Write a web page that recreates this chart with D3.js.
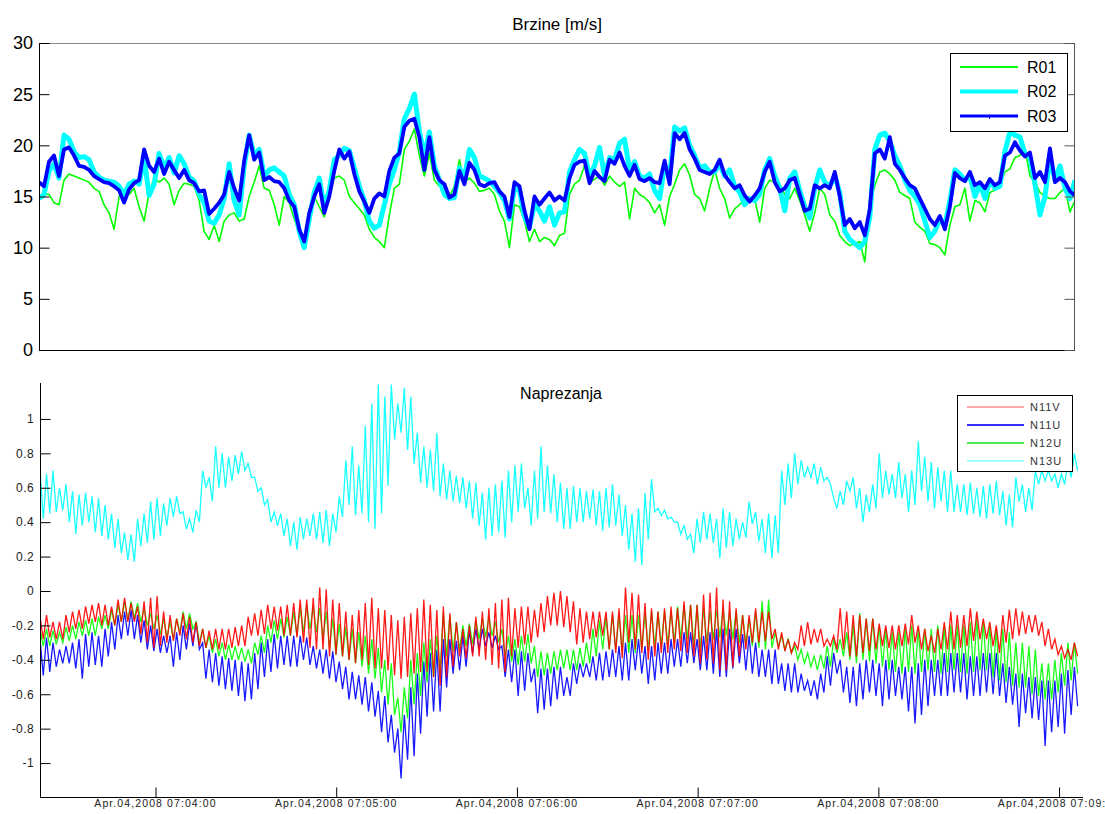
<!DOCTYPE html>
<html><head><meta charset="utf-8">
<script src="https://cdn.jsdelivr.net/npm/d3@7/dist/d3.min.js"></script>
<style>
html,body{margin:0;padding:0;background:#fff;}
svg{display:block;font-family:Arial,"Liberation Sans",sans-serif;}
</style></head><body>
<svg id="c" width="1105" height="814"></svg>
<script>
// ---------- Top panel: Brzine [m/s] ----------
const topTitle = "Brzine [m/s]";
const topSeriesNames = ["R01", "R02", "R03"];
const topTicks = [0, 5, 10, 15, 20, 25, 30];
const r01 = [15.0,15.3,15.2,14.4,14.2,16.6,17.2,17.0,16.8,16.6,
16.4,15.8,15.5,14.2,13.4,11.8,15.0,15.6,15.2,15.8,
14.0,12.6,15.4,16.8,16.4,16.8,16.2,14.2,15.6,16.3,
16.2,16.0,14.6,11.6,10.8,12.2,10.6,12.6,13.2,13.4,
12.6,12.8,15.0,16.4,18.0,15.8,15.6,14.2,12.2,15.0,
14.4,12.8,11.4,11.0,12.4,15.0,14.0,13.0,15.6,16.8,
17.0,16.6,15.0,14.4,13.8,13.2,11.8,11.0,10.6,10.0,
13.2,15.8,16.2,19.6,20.4,21.6,19.0,17.0,19.2,16.6,
16.0,16.0,15.0,16.0,18.6,16.4,16.8,16.3,15.5,15.6,
15.8,15.2,13.6,12.6,10.0,14.2,14.0,12.6,10.6,11.8,
10.6,11.0,10.8,10.2,11.2,
11.4,15.2,16.2,16.6,18.0,16.3,16.7,17.0,16.1,17.0,
16.4,16.0,16.4,12.8,15.8,15.2,14.9,14.4,13.4,14.2,
12.2,15.0,16.2,17.6,18.2,17.1,15.2,14.8,13.6,15.8,
17.6,15.8,14.8,12.9,13.8,14.2,14.8,14.6,14.8,12.5,
15.8,16.6,16.4,16.2,15.2,14.8,15.8,14.6,13.2,11.6,
13.4,15.8,15.2,13.2,12.6,11.2,10.6,10.2,10.4,10.6,
8.6,14.2,16.1,17.4,17.6,17.2,16.6,15.4,15.1,14.8,
12.5,12.0,11.6,10.4,10.3,10.0,9.3,12.2,14.0,14.2,
15.8,12.6,14.6,14.4,13.5,15.4,15.6,16.2,17.4,17.7,
18.8,19.0,19.7,17.0,16.4,15.4,15.0,14.8,14.8,15.4,
15.8,13.5,14.6];
const r02 = [14.8,15.2,17.5,18.2,16.8,21.0,20.6,19.4,18.8,18.9,
18.6,17.4,16.9,16.6,16.5,16.4,16.0,15.2,16.2,16.5,
16.2,18.8,15.1,16.2,19.2,17.8,18.8,17.3,19.0,18.2,
16.9,16.5,15.2,14.4,12.6,12.4,13.2,14.8,18.2,14.6,
13.2,18.0,21.0,19.0,19.6,17.0,17.6,17.8,17.4,17.0,
15.2,14.2,11.6,10.0,12.8,15.4,16.8,14.0,15.6,18.6,
19.0,19.7,19.5,17.8,16.0,14.6,12.6,11.9,12.2,14.2,
16.2,17.6,19.4,22.6,23.6,25.0,21.4,19.0,21.3,18.0,
16.6,15.2,14.8,14.9,17.8,16.8,19.6,18.8,17.0,16.8,
16.5,16.0,15.4,14.6,12.8,15.8,15.6,13.0,12.0,14.2,
13.6,12.6,14.0,12.2,13.4,
13.5,17.4,18.6,19.6,19.2,17.0,18.0,19.8,17.0,18.8,
18.6,20.2,20.6,17.6,18.4,17.0,16.8,17.2,15.6,14.8,
18.0,17.0,21.8,21.4,21.7,20.0,19.0,17.8,18.0,17.4,
17.4,18.2,17.0,17.6,16.0,15.4,14.2,14.8,14.6,15.2,
17.6,18.7,17.0,15.8,13.6,16.8,17.4,15.6,14.0,12.9,
15.8,17.6,16.4,16.0,17.0,15.4,11.6,10.8,10.4,10.0,
10.6,13.0,19.6,21.0,21.2,20.4,19.0,18.0,16.6,15.6,
15.0,14.2,12.6,11.0,11.6,12.8,12.2,14.6,17.6,17.2,
16.6,17.0,15.0,16.2,14.8,16.6,15.8,16.0,19.4,21.3,
21.0,20.8,19.2,18.8,16.2,13.2,15.0,18.8,16.6,18.0,
15.8,14.8,16.6];
const r03 = [16.4,16.0,18.4,19.0,17.0,19.6,19.8,19.0,18.0,17.9,
17.6,17.0,16.7,16.4,16.3,16.0,15.6,14.4,15.7,16.3,
16.6,19.6,18.0,17.4,18.7,17.2,18.4,17.6,16.8,17.6,
16.6,16.3,15.5,15.6,13.3,13.8,14.4,15.2,17.4,15.8,
14.6,18.5,21.0,18.6,19.3,16.6,16.9,16.5,16.4,15.8,
14.6,14.0,11.8,10.6,13.4,15.0,16.2,13.4,15.0,17.5,
19.6,18.7,19.4,17.2,15.5,14.5,13.4,14.8,15.3,15.0,
17.5,18.8,19.2,21.8,22.4,22.6,20.8,17.6,20.8,17.6,
16.6,16.2,14.9,15.2,17.5,16.2,18.3,17.6,16.2,16.0,
16.3,16.4,15.5,15.0,13.0,16.4,16.0,13.6,11.8,15.0,
14.2,14.8,15.4,14.6,15.0,
14.6,16.8,18.1,18.4,18.5,16.3,17.5,16.9,16.5,18.6,
18.2,19.3,18.0,17.0,18.1,16.7,16.5,16.8,16.4,16.3,
18.5,16.2,21.2,20.6,21.2,19.6,18.7,17.6,17.4,17.2,
17.6,18.6,17.1,16.4,15.8,16.1,15.1,14.5,15.1,15.8,
17.4,18.4,16.4,15.5,15.8,16.6,16.8,15.2,13.6,13.8,
16.1,15.8,16.1,15.8,17.4,15.0,12.2,12.8,11.9,12.5,
11.2,13.8,19.2,19.6,18.7,20.8,18.2,17.6,16.8,16.1,
15.8,14.8,13.8,12.8,12.2,13.1,11.8,14.0,17.3,16.8,
16.5,17.4,16.1,16.4,15.8,16.7,16.1,16.4,19.0,19.3,
20.3,19.5,18.9,19.3,16.8,17.4,16.4,19.7,16.4,16.8,
16.4,15.5,15.1];

// ---------- Bottom panel: Naprezanja ----------
const botTitle = "Naprezanja";
const botSeriesNames = ["N11V", "N11U", "N12U", "N13U"];
const botTicks = [-1, -0.8, -0.6, -0.4, -0.2, 0, 0.2, 0.4, 0.6, 0.8, 1];
const botTickLabels = ["-1", "-0.8", "-0.6", "-0.4", "-0.2", "0", "0.2", "0.4", "0.6", "0.8", "1"];
const timeTickMinutes = [4, 5, 6, 7, 8, 9];
const timeTickLabels = ["Apr.04,2008 07:04:00", "Apr.04,2008 07:05:00", "Apr.04,2008 07:06:00",
  "Apr.04,2008 07:07:00", "Apr.04,2008 07:08:00", "Apr.04,2008 07:09:00"];

// envelope samples (upper / lower swing of each oscillation)
const n13uHi = [.71,.68,.70,.60,.62,.58,.56,.57,.55,.54,
.50,.45,.42,.34,.33,.42,.45,.52,.54,.51,
.54,.55,.46,.42,.47,.70,.66,.84,.80,.78,
.79,.81,.74,.66,.60,.53,.46,.45,.42,.40,
.43,.42,.45,.46,.47,.45,.55,.76,.84,.73,
.96,1.09,1.20,1.13,1.20,1.09,1.18,1.13,.92,.84,
.82,.92,.74,.70,.67,.66,.64,.63,.57,.60,
.62,.64,.70,.73,.74,.60,.70,.84,.73,.68,
.63,.60,.61,.60,.58,.59,.58,.60,.62,.56,
.50,.45,.48,.57,.65,.48,.47,.43,.40,.38,
.33,.42,.46,.45,.42,.48,.46,.42,.40,.52,
.46,.42,.45,.44,.70,.74,.80,.76,.72,.74,
.72,.66,.54,.58,.64,.66,.60,.56,.62,.80,
.70,.68,.75,.68,.70,.87,.78,.75,.72,.70,
.70,.62,.62,.63,.60,.61,.62,.64,.58,.56,
.66,.62,.60,.70,.70,.70,.68,.68,.75,.80];
const n13uLo = [.42,.45,.46,.47,.40,.33,.38,.40,.34,.32,
.30,.25,.22,.18,.17,.26,.28,.30,.32,.38,
.43,.45,.36,.34,.40,.60,.52,.60,.60,.64,
.68,.70,.66,.58,.50,.40,.38,.32,.26,.24,
.30,.32,.30,.28,.26,.34,.43,.50,.44,.45,
.40,.36,.45,.61,.88,.92,.82,.74,.63,.60,
.58,.55,.53,.52,.51,.48,.42,.38,.30,.32,
.34,.31,.40,.46,.48,.38,.42,.46,.45,.40,
.36,.36,.40,.40,.42,.38,.35,.37,.38,.32,
.24,.17,.15,.30,.46,.44,.42,.40,.33,.30,
.22,.28,.30,.28,.19,.25,.26,.30,.31,.39,
.29,.22,.19,.22,.50,.54,.62,.66,.66,.62,
.64,.62,.48,.50,.58,.48,.40,.46,.48,.54,
.56,.54,.54,.46,.50,.58,.52,.48,.52,.46,
.46,.46,.44,.45,.43,.42,.45,.44,.38,.37,
.52,.46,.47,.62,.64,.64,.60,.62,.66,.70];
const n11vHi = [-.15,-.14,-.18,-.18,-.14,-.12,-.11,-.09,-.08,-.07,
-.08,-.09,-.05,-.04,-.07,-.09,-.06,-.04,-.03,-.12,
-.14,-.16,-.13,-.15,-.18,-.22,-.23,-.22,-.22,-.22,
-.21,-.20,-.15,-.13,-.11,-.08,-.09,-.09,-.08,-.07,
-.05,-.05,-.04,.02,.01,-.05,-.07,-.12,-.14,-.11,
-.07,-.04,-.10,-.11,-.14,-.17,-.15,-.13,-.10,-.05,
-.08,-.11,-.09,-.13,-.18,-.22,-.20,-.15,-.12,-.10,
-.07,-.05,-.04,-.10,-.09,-.09,-.11,-.07,-.03,-.01,
.00,-.03,-.06,-.10,-.12,-.12,-.12,-.12,-.12,-.10,
.02,-.01,-.02,-.07,-.10,-.12,-.10,-.09,-.10,-.06,
-.08,-.08,-.02,-.01,.02,-.05,-.06,-.10,-.14,-.14,
-.10,-.12,-.12,-.22,-.24,-.28,-.30,-.20,-.18,-.22,
-.22,-.28,-.26,-.10,-.12,-.14,-.14,-.16,-.16,-.19,
-.20,-.20,-.20,-.19,-.14,-.20,-.22,-.26,-.22,-.18,
-.12,-.14,-.14,-.10,-.12,-.16,-.18,-.20,-.14,-.11,
-.10,-.12,-.14,-.14,-.18,-.22,-.28,-.32,-.34,-.30];
const n11vLo = [-.28,-.27,-.28,-.28,-.24,-.22,-.22,-.19,-.18,-.20,
-.20,-.20,-.18,-.18,-.18,-.25,-.30,-.33,-.32,-.30,
-.29,-.26,-.28,-.30,-.32,-.33,-.34,-.34,-.34,-.33,
-.32,-.32,-.26,-.26,-.25,-.22,-.23,-.26,-.26,-.27,
-.30,-.33,-.34,-.34,-.38,-.37,-.38,-.40,-.42,-.40,
-.43,-.45,-.45,-.46,-.49,-.51,-.50,-.48,-.47,-.47,
-.50,-.55,-.50,-.44,-.38,-.39,-.38,-.38,-.40,-.43,
-.45,-.47,-.38,-.33,-.31,-.30,-.27,-.24,-.20,-.20,
-.21,-.24,-.31,-.30,-.28,-.27,-.26,-.34,-.36,-.39,
-.30,-.34,-.36,-.40,-.38,-.36,-.36,-.34,-.35,-.36,
-.38,-.42,-.40,-.42,-.46,-.46,-.44,-.38,-.34,-.30,
-.30,-.29,-.28,-.34,-.35,-.36,-.34,-.32,-.31,-.30,
-.32,-.32,-.34,-.34,-.38,-.38,-.36,-.35,-.34,-.32,
-.33,-.34,-.32,-.31,-.30,-.34,-.35,-.36,-.34,-.34,
-.34,-.33,-.32,-.29,-.28,-.28,-.32,-.36,-.30,-.28,
-.26,-.25,-.24,-.26,-.32,-.34,-.37,-.39,-.40,-.38];
const n11uHi = [-.28,-.27,-.30,-.34,-.32,-.30,-.28,-.25,-.24,-.26,
-.22,-.18,-.14,-.12,-.11,-.14,-.17,-.20,-.22,-.26,
-.26,-.24,-.20,-.19,-.18,-.30,-.34,-.36,-.38,-.39,
-.40,-.41,-.42,-.36,-.30,-.28,-.25,-.26,-.26,-.26,
-.26,-.27,-.32,-.34,-.34,-.35,-.41,-.44,-.47,-.49,
-.50,-.53,-.58,-.61,-.72,-.80,-.72,-.56,-.48,-.41,
-.36,-.34,-.28,-.28,-.29,-.26,-.23,-.22,-.22,-.24,
-.26,-.32,-.34,-.34,-.35,-.36,-.45,-.45,-.45,-.44,
-.44,-.50,-.42,-.42,-.42,-.38,-.36,-.35,-.34,-.32,
-.30,-.28,-.28,-.32,-.32,-.30,-.30,-.28,-.28,-.24,
-.24,-.28,-.26,-.24,-.22,-.22,-.22,-.22,-.25,-.26,
-.30,-.34,-.34,-.34,-.42,-.42,-.42,-.48,-.52,-.52,
-.48,-.38,-.36,-.40,-.44,-.44,-.42,-.40,-.40,-.42,
-.40,-.40,-.44,-.44,-.44,-.42,-.40,-.40,-.40,-.36,
-.36,-.36,-.36,-.38,-.38,-.36,-.36,-.36,-.42,-.44,
-.48,-.48,-.50,-.50,-.52,-.52,-.52,-.48,-.46,-.44];
const n11uLo = [-.49,-.47,-.44,-.42,-.42,-.45,-.51,-.44,-.43,-.44,
-.38,-.34,-.28,-.26,-.28,-.30,-.34,-.35,-.36,-.36,
-.44,-.40,-.34,-.32,-.34,-.51,-.53,-.55,-.57,-.58,
-.61,-.64,-.63,-.57,-.50,-.47,-.45,-.43,-.44,-.44,
-.40,-.43,-.45,-.48,-.51,-.53,-.57,-.63,-.63,-.66,
-.70,-.73,-.82,-.88,-.94,-1.09,-.98,-.96,-.83,-.73,
-.70,-.70,-.56,-.48,-.46,-.44,-.36,-.34,-.32,-.33,
-.34,-.50,-.53,-.61,-.58,-.53,-.71,-.69,-.67,-.63,
-.61,-.61,-.54,-.50,-.50,-.52,-.52,-.50,-.50,-.52,
-.52,-.46,-.48,-.54,-.52,-.48,-.48,-.44,-.44,-.42,
-.42,-.46,-.46,-.48,-.50,-.50,-.45,-.42,-.46,-.48,
-.50,-.50,-.54,-.54,-.58,-.59,-.59,-.58,-.61,-.63,
-.59,-.55,-.48,-.59,-.65,-.67,-.63,-.59,-.61,-.67,
-.63,-.61,-.63,-.70,-.77,-.72,-.67,-.61,-.61,-.61,
-.59,-.59,-.63,-.61,-.61,-.59,-.60,-.61,-.65,-.66,
-.79,-.71,-.74,-.75,-.90,-.82,-.79,-.83,-.72,-.67];
const n12uHi = [-.22,-.22,-.23,-.24,-.21,-.20,-.18,-.17,-.16,-.15,
-.14,-.11,-.08,-.06,-.06,-.07,-.10,-.13,-.14,-.16,
-.18,-.16,-.12,-.13,-.18,-.22,-.26,-.28,-.30,-.31,
-.32,-.33,-.34,-.30,-.26,-.20,-.17,-.16,-.15,-.12,
-.10,-.08,-.09,-.10,-.12,-.16,-.19,-.21,-.22,-.24,
-.26,-.28,-.33,-.40,-.42,-.62,-.56,-.40,-.36,-.30,
-.28,-.26,-.13,-.14,-.18,-.20,-.19,-.17,-.16,-.15,
-.18,-.22,-.26,-.28,-.26,-.25,-.32,-.35,-.36,-.35,
-.34,-.34,-.34,-.33,-.30,-.22,-.17,-.15,-.14,-.14,
-.14,-.14,-.14,-.13,-.12,-.12,-.12,-.12,-.09,-.08,
-.08,-.08,-.10,-.12,-.11,-.10,-.12,-.12,-.14,-.16,
-.12,-.06,-.05,-.24,-.26,-.28,-.32,-.34,-.36,-.38,
-.37,-.32,-.28,-.28,-.24,-.20,-.13,-.16,-.16,-.20,
-.22,-.24,-.24,-.22,-.20,-.22,-.22,-.22,-.20,-.20,
-.20,-.20,-.20,-.18,-.16,-.18,-.20,-.22,-.22,-.24,
-.30,-.30,-.32,-.34,-.42,-.42,-.40,-.36,-.30,-.30];
const n12uLo = [-.32,-.32,-.31,-.30,-.29,-.28,-.26,-.26,-.26,-.22,
-.22,-.20,-.18,-.17,-.16,-.18,-.20,-.22,-.25,-.27,
-.28,-.24,-.22,-.22,-.30,-.33,-.36,-.38,-.40,-.40,
-.40,-.41,-.42,-.37,-.36,-.30,-.28,-.27,-.26,-.26,
-.24,-.22,-.24,-.28,-.33,-.37,-.38,-.40,-.42,-.44,
-.48,-.51,-.59,-.66,-.72,-.82,-.74,-.66,-.61,-.53,
-.50,-.48,-.38,-.35,-.34,-.32,-.31,-.28,-.27,-.26,
-.30,-.38,-.41,-.43,-.41,-.42,-.50,-.49,-.48,-.46,
-.45,-.46,-.46,-.44,-.42,-.38,-.34,-.34,-.34,-.35,
-.36,-.36,-.34,-.34,-.32,-.32,-.31,-.30,-.28,-.28,
-.32,-.34,-.30,-.28,-.27,-.26,-.28,-.30,-.31,-.32,
-.33,-.34,-.33,-.32,-.34,-.36,-.40,-.42,-.44,-.46,
-.45,-.44,-.36,-.38,-.40,-.42,-.40,-.41,-.42,-.44,
-.46,-.47,-.48,-.47,-.48,-.47,-.46,-.47,-.48,-.47,
-.46,-.47,-.48,-.47,-.46,-.46,-.50,-.52,-.53,-.55,
-.56,-.56,-.60,-.61,-.63,-.63,-.59,-.55,-.52,-.48];

// ---------- time base ----------
const t0 = new Date(2008, 3, 4, 7, 3, 21, 650);
const spanMs = 346300;
const topStepMs = spanMs / (r03.length - 1);
const botStepMs = 2160;

const svg = d3.select("#c");

// ================= TOP PANEL =================
const TL = 39, TR = 1075, TT = 43, TB = 350;
const xTop = d3.scaleTime().domain([t0, new Date(+t0 + spanMs)]).range([TL, TR]);
const yTop = d3.scaleLinear().domain([0, 30]).range([TB, TT]);

svg.append("defs").append("clipPath").attr("id", "clipTop")
  .append("rect").attr("x", TL).attr("y", TT).attr("width", TR - TL).attr("height", TB - TT);
svg.select("defs").append("clipPath").attr("id", "clipBot")
  .append("rect").attr("x", 40).attr("y", 383).attr("width", 1043).attr("height", 414);

const topData = [r01, r02, r03].map(arr => arr.map((v, i) => ({t: new Date(+t0 + i * topStepMs), v})));
const topColors = ["#00ff00", "#00ffff", "#0000ff"];
const topWidths = [1.6, 5, 3.8];
const lineTop = d3.line().x(d => xTop(d.t)).y(d => yTop(d.v));
const gTop = svg.append("g").attr("clip-path", "url(#clipTop)");
topData.forEach((dat, k) => {
  gTop.append("path").attr("d", lineTop(dat)).attr("fill", "none")
    .attr("stroke", topColors[k]).attr("stroke-width", topWidths[k]).attr("stroke-linejoin", "round");
});

// frame
svg.append("line").attr("x1", TL).attr("x2", TR).attr("y1", TT + 0.5).attr("y2", TT + 0.5).attr("stroke", "#8a8a8a");
svg.append("line").attr("x1", TR - 0.5).attr("x2", TR - 0.5).attr("y1", TT).attr("y2", TB).attr("stroke", "#555");
svg.append("line").attr("x1", TL).attr("x2", TR).attr("y1", TB + 0.5).attr("y2", TB + 0.5).attr("stroke", "#000");
svg.append("line").attr("x1", TL + 0.5).attr("x2", TL + 0.5).attr("y1", TT).attr("y2", TB + 1).attr("stroke", "#000");

// y axis (ticks inward, both sides)
const yAxisTop = d3.axisRight(yTop).tickValues(topTicks).tickSize(10).tickFormat("");
svg.append("g").attr("transform", `translate(${TL + 0.5},0)`).call(yAxisTop)
  .call(g => g.select(".domain").remove())
  .call(g => g.selectAll("line").attr("stroke", "#000"));
svg.append("g").attr("transform", `translate(${TR - 0.5},0)`).call(d3.axisLeft(yTop).tickValues(topTicks).tickSize(10).tickFormat(""))
  .call(g => g.select(".domain").remove())
  .call(g => g.selectAll("line").attr("stroke", "#555"));
svg.append("g").selectAll("text").data(topTicks).join("text")
  .attr("x", 33).attr("y", d => yTop(d)).attr("dy", "0.36em")
  .attr("text-anchor", "end").attr("font-size", 18).attr("fill", "#000").text(d => d);

svg.append("text").attr("x", 557).attr("y", 30).attr("text-anchor", "middle")
  .attr("font-size", 17).attr("fill", "#000").text(topTitle);

// legend top
const lgT = svg.append("g");
lgT.append("rect").attr("x", 950.5).attr("y", 53.5).attr("width", 117).attr("height", 78)
  .attr("fill", "#fff").attr("stroke", "#000");
topSeriesNames.forEach((n, k) => {
  const yy = 67 + k * 24.5;
  lgT.append("line").attr("x1", 960).attr("x2", 1018).attr("y1", yy).attr("y2", yy)
    .attr("stroke", topColors[k]).attr("stroke-width", topWidths[k] === 5 ? 4 : (k === 0 ? 2 : 3));
  lgT.append("text").attr("x", 1027).attr("y", yy).attr("dy", "0.36em")
    .attr("font-size", 16).attr("fill", "#000").text(n);
});
lgT.append("rect").attr("x", 989).attr("y", 116).attr("width", 1).attr("height", 3).attr("fill", "#0000ff");

// ================= BOTTOM PANEL =================
const BL = 40, BR = 1083, BT = 383, BB = 797;
const xBot = d3.scaleTime().domain([t0, new Date(+t0 + spanMs)]).range([BL, BR]);
const yBot = d3.scaleLinear().domain([-1.2, 1.2]).range([797.5, 384.5]);

function zig(hi, lo) {
  const pts = [];
  hi.forEach((h, i) => {
    pts.push({t: new Date(+t0 + i * botStepMs), v: h});
    pts.push({t: new Date(+t0 + i * botStepMs + botStepMs / 2), v: lo[i]});
  });
  return pts;
}
const lineBot = d3.line().x(d => xBot(d.t)).y(d => yBot(d.v));
const gBot = svg.append("g").attr("clip-path", "url(#clipBot)");
const botSeries = [
  {name: "N11U", data: zig(n11uHi, n11uLo), color: "#0000ff"},
  {name: "N12U", data: zig(n12uHi, n12uLo), color: "#00ff00"},
  {name: "N11V", data: zig(n11vHi, n11vLo), color: "#ff0000"},
  {name: "N13U", data: zig(n13uHi, n13uLo), color: "#00ffff"}
];
botSeries.forEach(s => {
  gBot.append("path").attr("d", lineBot(s.data)).attr("fill", "none")
    .attr("stroke", s.color).attr("stroke-width", 1.3).attr("stroke-opacity", 0.9);
});

// axes
svg.append("line").attr("x1", BL + 0.5).attr("x2", BL + 0.5).attr("y1", BT).attr("y2", BB + 1).attr("stroke", "#000");
svg.append("line").attr("x1", BL).attr("x2", BR).attr("y1", BB + 0.5).attr("y2", BB + 0.5).attr("stroke", "#000");
svg.append("g").attr("transform", `translate(${BL + 0.5},0)`)
  .call(d3.axisRight(yBot).tickValues(botTicks).tickSize(10).tickFormat(""))
  .call(g => g.select(".domain").remove())
  .call(g => g.selectAll("line").attr("stroke", "#000"));
svg.append("g").selectAll("text").data(botTicks).join("text")
  .attr("x", 34).attr("y", d => yBot(d)).attr("dy", "0.36em")
  .attr("text-anchor", "end").attr("font-size", 12).attr("letter-spacing", 0.4).attr("fill", "#222")
  .text((d, i) => botTickLabels[i]);

const tickDates = timeTickMinutes.map(m => new Date(2008, 3, 4, 7, m, 0));
svg.append("g").attr("transform", `translate(0,${BB + 0.5})`)
  .call(d3.axisTop(xBot).tickValues(tickDates).tickSize(10).tickFormat(""))
  .call(g => g.select(".domain").remove())
  .call(g => g.selectAll("line").attr("stroke", "#000"));
svg.append("g").selectAll("text").data(tickDates).join("text")
  .attr("x", d => xBot(d)).attr("y", 807).attr("text-anchor", "middle")
  .attr("font-size", 10.5).attr("letter-spacing", 1.1).attr("fill", "#222")
  .text((d, i) => timeTickLabels[i]);

svg.append("text").attr("x", 561).attr("y", 399).attr("text-anchor", "middle")
  .attr("font-size", 16).attr("fill", "#000").text(botTitle);

// legend bottom
const lgB = svg.append("g");
lgB.append("rect").attr("x", 957.5).attr("y", 395.5).attr("width", 115).attr("height", 76)
  .attr("fill", "#fff").attr("stroke", "#000");
const lgColors = {"N11V": "#ff5050", "N11U": "#3030ff", "N12U": "#10e010", "N13U": "#80ffff"};
const lgW = {"N11V": 1, "N11U": 2, "N12U": 1.5, "N13U": 1.5};
botSeriesNames.forEach((n, k) => {
  const yy = 407 + k * 18;
  lgB.append("line").attr("x1", 967).attr("x2", 1024).attr("y1", yy).attr("y2", yy)
    .attr("stroke", lgColors[n]).attr("stroke-width", lgW[n]);
  lgB.append("text").attr("x", 1030).attr("y", yy).attr("dy", "0.36em")
    .attr("font-size", 11).attr("letter-spacing", 1).attr("fill", "#333").text(n);
});
</script>
</body></html>
